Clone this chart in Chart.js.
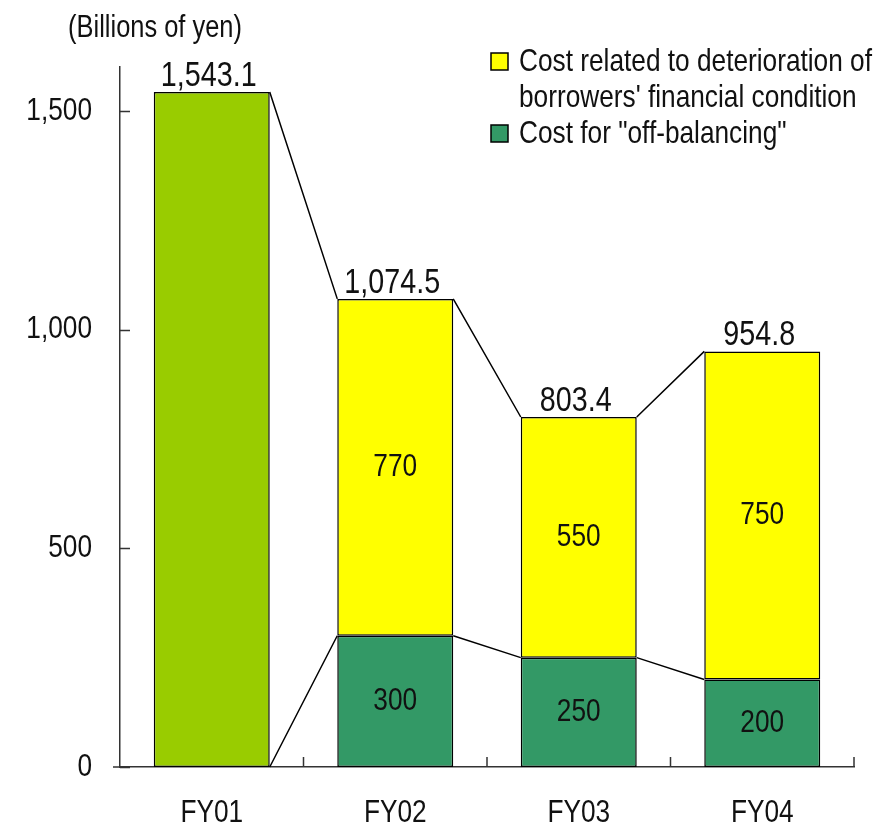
<!DOCTYPE html>
<html>
<head>
<meta charset="utf-8">
<script src="https://cdn.jsdelivr.net/npm/chart.js@4"></script>
<style>
  html, body { margin: 0; padding: 0; background: #fff; }
  #wrap { width: 888px; height: 835px; }
</style>
</head>
<body>
<div id="wrap"><canvas id="myChart"></canvas></div>
<script>
// data (billions of yen)
const years = ["FY01", "FY02", "FY03", "FY04"];
const totals = [1543.1, 1074.5, 803.4, 954.8];
const fy01Cost = [1543.1, null, null, null];
const offBalancing = [null, 300, 250, 200];
const deterioration = [null, 770, 550, 750];
const yTicks = [0, 500, 1000, 1500];
const unitLabel = "(Billions of yen)";
const deteriorationLabel = ["Cost related to deterioration of", "borrowers' financial condition"];
const offBalancingLabel = ['Cost for "off-balancing"'];

const FONT = '"Liberation Sans", Arial, sans-serif';
const NARROW = 0.82; // squeeze the text horizontally
const TEXT = "#111";
const LIME = "#99cc00";
const GREEN = "#339966";
const YELLOW = "#ffff00";

const fmt = (v, digits) =>
  v.toLocaleString("en-US", { minimumFractionDigits: digits, maximumFractionDigits: digits });

// top of each stacked column
const stackTop = (i) =>
  fy01Cost[i] !== null ? fy01Cost[i] : offBalancing[i] + deterioration[i];
// top of the lower ("off-balancing") segment, 0 when there is none
const greenTop = (i) => (offBalancing[i] !== null ? offBalancing[i] : 0);

// condensed text helper
function text(ctx, str, x, y, size, align, baseline) {
  ctx.save();
  ctx.font = `${size}px ${FONT}`;
  ctx.fillStyle = TEXT;
  ctx.textAlign = align;
  ctx.textBaseline = baseline;
  ctx.translate(x, y);
  ctx.scale(NARROW, 1);
  ctx.fillText(str, 0, 0);
  ctx.restore();
}

// connector lines between neighbouring columns
const connectors = {
  id: "connectors",
  beforeDatasetsDraw(chart) {
    const { ctx, scales: { x, y } } = chart;
    const w = chart.getDatasetMeta(1).data[1].width;
    ctx.save();
    ctx.strokeStyle = "#000";
    ctx.lineWidth = 1.5;
    for (let i = 0; i < years.length - 1; i++) {
      const r = x.getPixelForValue(i) + w / 2;
      const l = x.getPixelForValue(i + 1) - w / 2;
      ctx.beginPath();
      ctx.moveTo(r, y.getPixelForValue(stackTop(i)));
      ctx.lineTo(l, y.getPixelForValue(stackTop(i + 1)));
      ctx.moveTo(r, y.getPixelForValue(greenTop(i)));
      ctx.lineTo(l, y.getPixelForValue(greenTop(i + 1)));
      ctx.stroke();
    }
    ctx.restore();
  },
};

// axis labels, value labels, legend, unit text and inward tick marks
const decorations = {
  id: "decorations",
  afterDraw(chart) {
    const { ctx, chartArea, scales: { x, y } } = chart;

    // axis labels
    yTicks.forEach((v) => text(ctx, fmt(v, 0), chartArea.left - 28, y.getPixelForValue(v), 32, "right", "middle"));
    years.forEach((yr, i) => text(ctx, yr, x.getPixelForValue(i), chartArea.bottom + 46, 32, "center", "middle"));

    // totals above the columns
    totals.forEach((t, i) => {
      text(ctx, fmt(t, 1), x.getPixelForValue(i) - 3, y.getPixelForValue(stackTop(i)) - 6, 35, "center", "alphabetic");
    });

    // segment values
    for (let i = 0; i < years.length; i++) {
      if (offBalancing[i] === null) continue;
      const cx = x.getPixelForValue(i);
      text(ctx, fmt(offBalancing[i], 0), cx, y.getPixelForValue(offBalancing[i] / 2), 32, "center", "middle");
      text(ctx, fmt(deterioration[i], 0), cx,
        y.getPixelForValue(offBalancing[i] + deterioration[i] / 2), 32, "center", "middle");
    }

    // unit
    text(ctx, unitLabel, 155, 28, 31, "center", "middle");

    // legend
    const items = [
      { color: YELLOW, lines: deteriorationLabel, top: 62 },
      { color: GREEN, lines: offBalancingLabel, top: 134 },
    ];
    ctx.save();
    items.forEach((it) => {
      ctx.fillStyle = it.color;
      ctx.fillRect(491, it.top - 9, 17, 17);
      ctx.strokeStyle = "#000";
      ctx.lineWidth = 1.5;
      ctx.strokeRect(491, it.top - 9, 17, 17);
      it.lines.forEach((line, k) => text(ctx, line, 519, it.top + k * 36, 32, "left", "middle"));
    });

    // tick marks pointing into the plot
    ctx.strokeStyle = "#333";
    ctx.lineWidth = 1.5;
    ctx.beginPath();
    yTicks.forEach((v) => {
      const py = Math.round(y.getPixelForValue(v)) + 0.5;
      ctx.moveTo(chartArea.left, py);
      ctx.lineTo(chartArea.left + 10, py);
    });
    for (let i = 0; i < years.length; i++) {
      const px = x.getPixelForValue(i + 0.5);
      ctx.moveTo(px, chartArea.bottom);
      ctx.lineTo(px, chartArea.bottom - 10);
    }
    // short stub of the base line left of the value axis
    ctx.moveTo(chartArea.left - 7, chartArea.bottom);
    ctx.lineTo(chartArea.left, chartArea.bottom);
    ctx.stroke();
    ctx.restore();
  },
};

const barStyle = {
  borderColor: "#000",
  borderWidth: 1.5,
  borderSkipped: false,
  barPercentage: 0.632,
  categoryPercentage: 1,
};

new Chart(document.getElementById("myChart"), {
  type: "bar",
  data: {
    labels: years,
    datasets: [
      { label: "Total", data: fy01Cost, backgroundColor: LIME, ...barStyle },
      { label: offBalancingLabel.join(" "), data: offBalancing, backgroundColor: GREEN, ...barStyle },
      { label: deteriorationLabel.join(" "), data: deterioration, backgroundColor: YELLOW, ...barStyle },
    ],
  },
  options: {
    responsive: true,
    maintainAspectRatio: false,
    animation: false,
    layout: { padding: { top: 67, right: 34, left: 0, bottom: 0 } },
    plugins: {
      legend: { display: false },
      tooltip: { enabled: false },
    },
    scales: {
      x: {
        stacked: true,
        grid: { display: false, drawTicks: false },
        border: { display: true, color: "#333", width: 1.5 },
        ticks: { display: false },
        afterFit: (scale) => { scale.height = 68; },
      },
      y: {
        stacked: true,
        min: 0,
        max: 1600,
        grid: { display: false, drawTicks: false },
        border: { display: true, color: "#333", width: 1.5 },
        afterBuildTicks: (scale) => { scale.ticks = yTicks.map((v) => ({ value: v })); },
        ticks: { display: false },
        afterFit: (scale) => { scale.width = 120; },
      },
    },
  },
  plugins: [connectors, decorations],
});
</script>
</body>
</html>
